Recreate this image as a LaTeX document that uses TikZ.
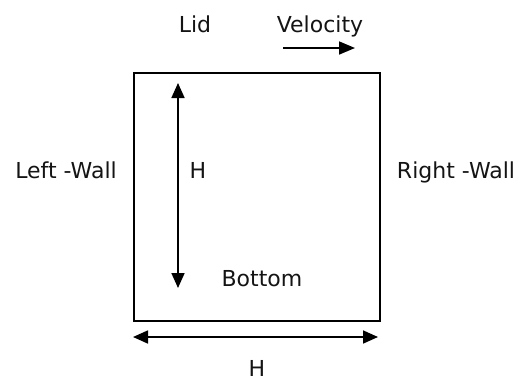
\documentclass[tikz,border=0pt]{standalone}
\usepackage{fontspec}
\setmainfont{DejaVu Sans}
\usetikzlibrary{positioning,arrows.meta}

\begin{document}
\begin{tikzpicture}[x=1pt,y=-1pt,every node/.style={font=\fontsize{22}{26}\selectfont}]
			% Define colors
			\definecolor{linecol}{RGB}{0, 0, 0}
			\definecolor{textcol}{RGB}{20, 20, 20}

			% Styles
			\tikzstyle{cavity_box} = [draw=linecol, line width=2.2pt, minimum width=246pt, minimum height=248pt, inner sep=0pt]
			\tikzstyle{label_txt} = [text=textcol, anchor=base, inner sep=0pt]
			\tikzstyle{dim_arrow} = [draw=linecol, line width=1.7pt, {Triangle[length=15pt,width=13pt]}-{Triangle[length=15pt,width=13pt]}]
			\tikzstyle{vel_arrow} = [draw=linecol, line width=1.7pt, -{Triangle[length=16pt,width=13pt]}]

			% Canvas
			\useasboundingbox (0,0) rectangle (526,381);

			% Cavity
			\node[cavity_box] (cavity) at (257,197) {};

			% Labels
			\node[label_txt] (lid) at (195,32) {Lid};
			\node[label_txt] (velocity) at (320,32) {Velocity};
			\node[label_txt] (leftwall) at (66,178) {Left -Wall};
			\node[label_txt] (hlabel) at (198,178) {H};
			\node[label_txt] (rightwall) at (456,178) {Right -Wall};
			\node[label_txt] (bottom) at (262,286) {Bottom};
			\node[label_txt] (hwidth) at (257,376) {H};

			% Arrow end points
			\coordinate (vstart) at (283,48);
			\coordinate (vend) at (355,48);
			\coordinate (htop) at (178,83);
			\coordinate (hbot) at (178,288);
			\coordinate (wleft) at (133,337);
			\coordinate (wright) at (378,337);

			% Arrows
			\draw[vel_arrow] (vstart) -- (vend);
			\draw[dim_arrow] (htop) -- (hbot);
			\draw[dim_arrow] (wleft) -- (wright);

		\end{tikzpicture}
\end{document}
